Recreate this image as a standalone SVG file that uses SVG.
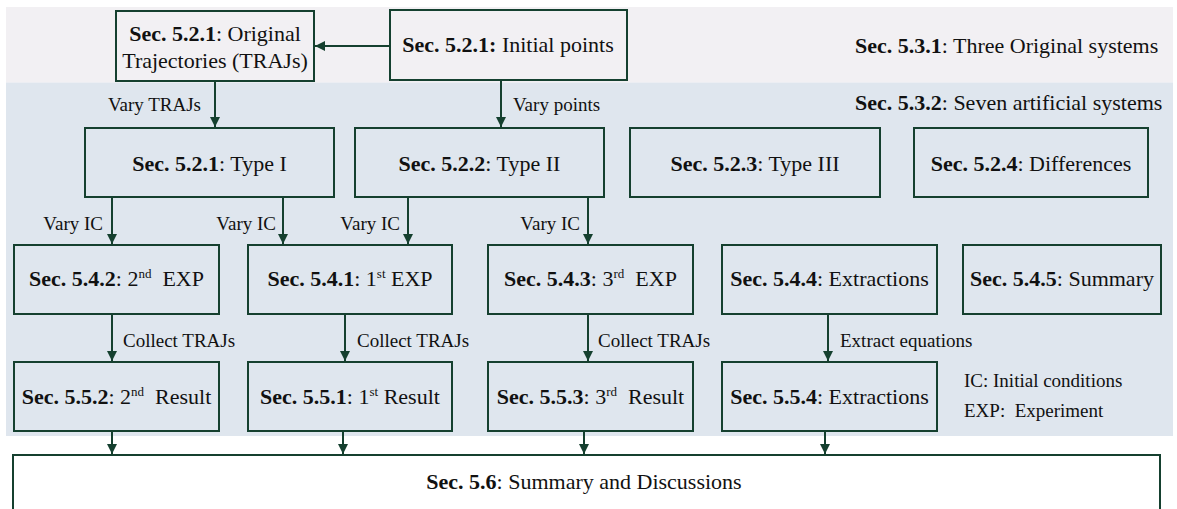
<svg xmlns="http://www.w3.org/2000/svg" width="1177" height="509" viewBox="0 0 1177 509">
<style>
.box{stroke:#15402f;stroke-width:2;}
.t{font-family:"Liberation Serif","Times New Roman",serif;font-size:22px;fill:#111;}
.c{text-anchor:middle;}
.b{font-weight:bold;}
.lbl{font-family:"Liberation Serif","Times New Roman",serif;font-size:19px;fill:#111;}
.sup{font-size:13px;}
.ar{stroke:#15402f;stroke-width:2;fill:none;marker-end:url(#ah);}
</style>
<defs>
<marker id="ah" viewBox="0 0 10 10" refX="10" refY="5" markerWidth="5" markerHeight="5" markerUnits="strokeWidth" orient="auto">
<path d="M0,0 L10,5 L0,10 z" fill="#15402f"/>
</marker>
</defs>
<rect width="1177" height="509" fill="#ffffff"/>
<g id="bands">
<rect x="6" y="7" width="1167" height="75.5" fill="#f2f0f3"/>
<rect x="6" y="82.5" width="1167" height="353.5" fill="#dfe6ee"/>
</g>
<g id="connectors">
<line class="ar" x1="390" y1="46" x2="315" y2="46"/>
<line class="ar" x1="215" y1="81" x2="215" y2="127"/>
<line class="ar" x1="501" y1="80" x2="501" y2="127"/>
<line class="ar" x1="112" y1="197" x2="112" y2="244"/>
<line class="ar" x1="283" y1="197" x2="283" y2="244"/>
<line class="ar" x1="408" y1="197" x2="408" y2="244"/>
<line class="ar" x1="588" y1="197" x2="588" y2="244"/>
<line class="ar" x1="112" y1="314" x2="112" y2="361"/>
<line class="ar" x1="345" y1="314" x2="345" y2="361"/>
<line class="ar" x1="588" y1="314" x2="588" y2="361"/>
<line class="ar" x1="828" y1="314" x2="828" y2="361"/>
<line class="ar" x1="112" y1="431" x2="112" y2="454"/>
<line class="ar" x1="343" y1="431" x2="343" y2="454"/>
<line class="ar" x1="584" y1="431" x2="584" y2="454"/>
<line class="ar" x1="825" y1="431" x2="825" y2="454"/>
<text class="lbl" x="201" y="111" text-anchor="end">Vary TRAJs</text>
<text class="lbl" x="513" y="111">Vary points</text>
<text class="lbl" x="103" y="230" text-anchor="end">Vary IC</text>
<text class="lbl" x="276" y="230" text-anchor="end">Vary IC</text>
<text class="lbl" x="400" y="230" text-anchor="end">Vary IC</text>
<text class="lbl" x="580" y="230" text-anchor="end">Vary IC</text>
<text class="lbl" x="123" y="347">Collect TRAJs</text>
<text class="lbl" x="357" y="347">Collect TRAJs</text>
<text class="lbl" x="598" y="347">Collect TRAJs</text>
<text class="lbl" x="840" y="347">Extract equations</text>
</g>
<g id="n-original">
<rect class="box" x="116" y="11" width="198" height="70" fill="#f2f0f3"/>
<text class="t c" x="215" y="41"><tspan class="b">Sec. 5.2.1</tspan>: Original</text>
<text class="t c" x="215" y="68">Trajectories (TRAJs)</text>
</g>
<g id="n-initial">
<rect class="box" x="390" y="10" width="237" height="70" fill="#f2f0f3"/>
<text class="t c" x="508" y="52"><tspan class="b">Sec. 5.2.1:</tspan> Initial points</text>
</g>
<g id="n-sys-orig">
<text class="t" x="855" y="53"><tspan class="b">Sec. 5.3.1</tspan>: Three Original systems</text>
</g>
<g id="n-sys-art">
<text class="t" x="855" y="110"><tspan class="b">Sec. 5.3.2</tspan>: Seven artificial systems</text>
</g>
<g id="n-type1">
<rect class="box" x="85" y="128" width="249" height="69" fill="#dfe6ee"/>
<text class="t c" x="209.5" y="171"><tspan class="b">Sec. 5.2.1</tspan>: Type I</text>
</g>
<g id="n-type2">
<rect class="box" x="355" y="128" width="249" height="69" fill="#dfe6ee"/>
<text class="t c" x="479.5" y="171"><tspan class="b">Sec. 5.2.2</tspan>: Type II</text>
</g>
<g id="n-type3">
<rect class="box" x="630" y="128" width="250" height="69" fill="#dfe6ee"/>
<text class="t c" x="755" y="171"><tspan class="b">Sec. 5.2.3</tspan>: Type III</text>
</g>
<g id="n-diff">
<rect class="box" x="914" y="128" width="234" height="69" fill="#dfe6ee"/>
<text class="t c" x="1031" y="171"><tspan class="b">Sec. 5.2.4</tspan>: Differences</text>
</g>
<g id="n-exp2">
<rect class="box" x="14" y="245" width="205" height="69" fill="#dfe6ee"/>
<text class="t c" x="116.5" y="286"><tspan class="b">Sec. 5.4.2</tspan>: 2<tspan class="sup" dy="-8">nd</tspan><tspan dy="8">&#160; EXP</tspan></text>
</g>
<g id="n-exp1">
<rect class="box" x="248" y="245" width="204" height="69" fill="#dfe6ee"/>
<text class="t c" x="350" y="286"><tspan class="b">Sec. 5.4.1</tspan>: 1<tspan class="sup" dy="-8">st</tspan><tspan dy="8"> EXP</tspan></text>
</g>
<g id="n-exp3">
<rect class="box" x="488" y="245" width="205" height="69" fill="#dfe6ee"/>
<text class="t c" x="590.5" y="286"><tspan class="b">Sec. 5.4.3</tspan>: 3<tspan class="sup" dy="-8">rd</tspan><tspan dy="8">&#160; EXP</tspan></text>
</g>
<g id="n-extr1">
<rect class="box" x="722" y="245" width="215" height="69" fill="#dfe6ee"/>
<text class="t c" x="829.5" y="286"><tspan class="b">Sec. 5.4.4</tspan>: Extractions</text>
</g>
<g id="n-summ1">
<rect class="box" x="963" y="245" width="198" height="69" fill="#dfe6ee"/>
<text class="t c" x="1062" y="286"><tspan class="b">Sec. 5.4.5</tspan>: Summary</text>
</g>
<g id="n-res2">
<rect class="box" x="14" y="362" width="205" height="69" fill="#dfe6ee"/>
<text class="t c" x="116.5" y="404"><tspan class="b">Sec. 5.5.2</tspan>: 2<tspan class="sup" dy="-8">nd</tspan><tspan dy="8">&#160; Result</tspan></text>
</g>
<g id="n-res1">
<rect class="box" x="248" y="362" width="204" height="69" fill="#dfe6ee"/>
<text class="t c" x="350" y="404"><tspan class="b">Sec. 5.5.1</tspan>: 1<tspan class="sup" dy="-8">st</tspan><tspan dy="8"> Result</tspan></text>
</g>
<g id="n-res3">
<rect class="box" x="488" y="362" width="205" height="69" fill="#dfe6ee"/>
<text class="t c" x="590.5" y="404"><tspan class="b">Sec. 5.5.3</tspan>: 3<tspan class="sup" dy="-8">rd</tspan><tspan dy="8">&#160; Result</tspan></text>
</g>
<g id="n-extr2">
<rect class="box" x="722" y="362" width="215" height="69" fill="#dfe6ee"/>
<text class="t c" x="829.5" y="404"><tspan class="b">Sec. 5.5.4</tspan>: Extractions</text>
</g>
<g id="legend">
<text class="lbl" x="964" y="387">IC: Initial conditions</text>
<text class="lbl" x="964" y="417">EXP:&#160; Experiment</text>
</g>
<g id="n-final">
<rect class="box" x="13" y="455" width="1147" height="70" fill="#ffffff"/>
<text class="t c" x="584" y="489"><tspan class="b">Sec. 5.6</tspan>: Summary and Discussions</text>
</g>
</svg>
